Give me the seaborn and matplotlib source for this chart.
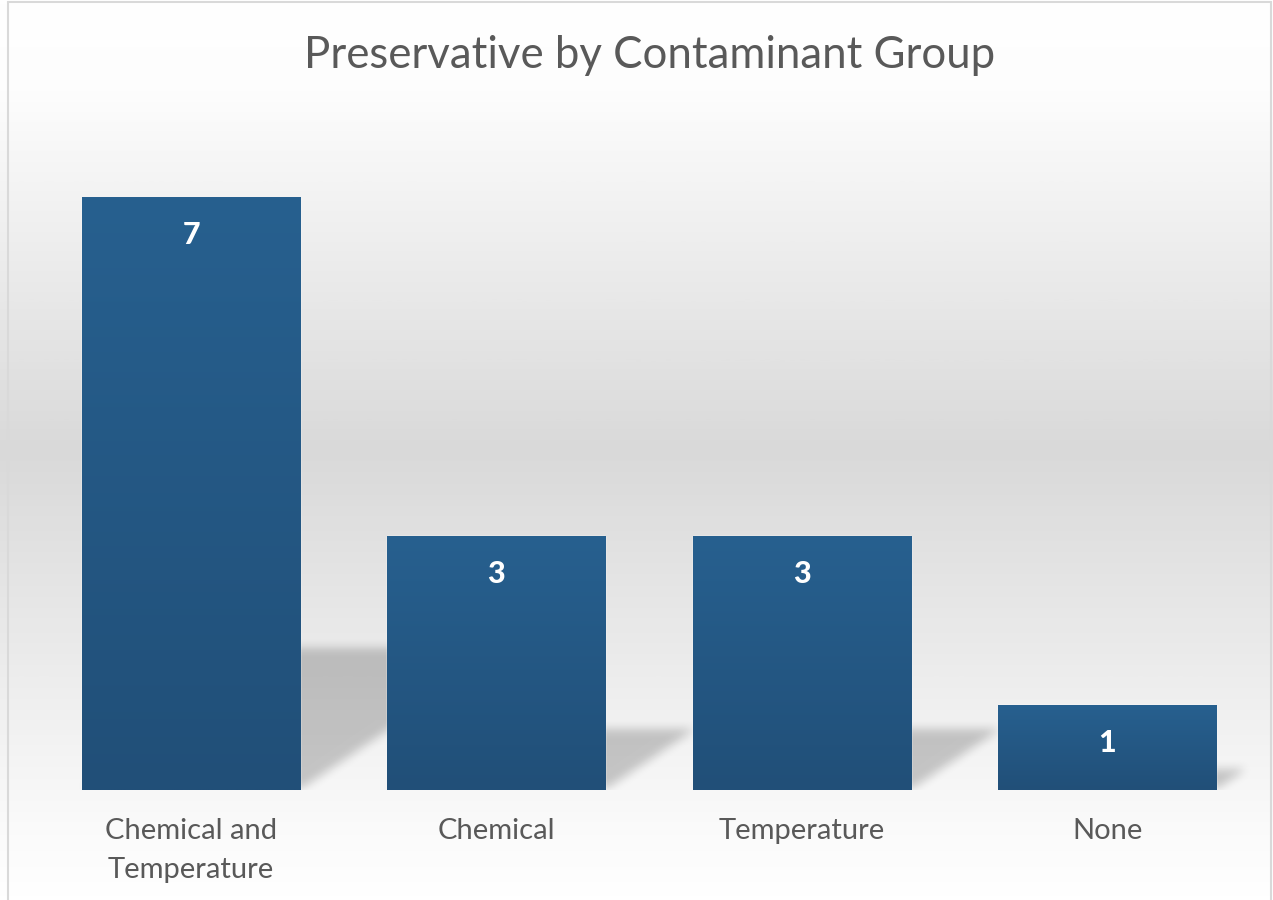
import numpy as np
import pandas as pd
import matplotlib
matplotlib.use("Agg")
import matplotlib.pyplot as plt
from matplotlib.path import Path
from matplotlib.colors import LinearSegmentedColormap
from matplotlib.lines import Line2D
import seaborn as sns

# data
groups = ["Chemical and\nTemperature", "Chemical", "Temperature", "None"]
counts = [7, 3, 3, 1]
title = "Preservative by Contaminant Group"

sns.set_theme(style="white")
plt.rcParams["font.family"] = ["Lato", "DejaVu Sans"]

text_grey = "#595959"

fig = plt.figure(figsize=(12.73, 9), dpi=100)

# ---------- background gradient (white -> grey -> white) ----------
bg = fig.add_axes([0, 0, 1, 1], zorder=-10)
bg_cmap = LinearSegmentedColormap.from_list(
    "bg", [(0, "#ffffff"), (0.1, "#fdfdfd"), (0.5, "#d9d9d9"), (0.93, "#fbfbfb"), (1, "#ffffff")])
bg.imshow(np.linspace(0, 1, 600).reshape(-1, 1), aspect="auto", cmap=bg_cmap,
          extent=(0, 1, 0, 1), vmin=0, vmax=1)
bg.set_xlim(0, 1)
bg.set_ylim(0, 1)
bg.axis("off")

# chart border
for xs_, ys_ in [([8 / 1273, 8 / 1273], [0, 1 - 2 / 900]),
                 ([8 / 1273, 1271 / 1273], [1 - 2 / 900, 1 - 2 / 900]),
                 ([1271 / 1273, 1271 / 1273], [0, 1 - 2 / 900])]:
    fig.add_artist(Line2D(xs_, ys_, transform=fig.transFigure, color="#d9d9d9", lw=1.5))

# ---------- bars ----------
ax = fig.add_axes([0.0302, 0.1222, 0.9594, 0.7522])
ax.patch.set_alpha(0)
df = pd.DataFrame({"group": groups, "count": counts})
sns.barplot(data=df, x="group", y="count", color="#245a8a", saturation=1,
            width=0.714, ax=ax)
ax.set_xlim(-0.5, 3.5)
ax.set_ylim(0, 8)
xlim = ax.get_xlim()
ylim = ax.get_ylim()

# perspective shadows behind the bars, blurred
bbox = ax.get_window_extent()
nx, ny = int(bbox.width), int(bbox.height)
gx, gy = np.meshgrid(np.linspace(*xlim, nx), np.linspace(*ylim, ny))
pts = np.column_stack([gx.ravel(), gy.ravel()])
mask = np.zeros(nx * ny)
for p in ax.patches:
    x0, w, h = p.get_x(), p.get_width(), p.get_height()
    s, hs = 0.098 * h, 0.24 * h
    poly = Path([(x0, 0), (x0 + w, 0), (x0 + w + s, hs), (x0 + s, hs), (x0, 0)])
    mask = np.maximum(mask, poly.contains_points(pts))
mask = mask.reshape(ny, nx)


def box_blur(a, r, axis):
    k = np.ones(2 * r + 1) / (2 * r + 1)
    return np.apply_along_axis(lambda m: np.convolve(m, k, mode="same"), axis, a)


for _ in range(2):
    mask = box_blur(mask, 5, 0)
    mask = box_blur(mask, 5, 1)

shadow = np.zeros((ny, nx, 4))
shadow[..., 3] = 0.2 * mask
ax.imshow(shadow, extent=(*xlim, *ylim), origin="lower", aspect="auto", zorder=0.5)

# vertical gradient on each bar
bar_cmap = LinearSegmentedColormap.from_list("bar", ["#27608f", "#214f78"])
for p, v in zip(ax.patches, counts):
    x0, w, h = p.get_x(), p.get_width(), p.get_height()
    ax.imshow(np.linspace(0, 1, 256).reshape(-1, 1), cmap=bar_cmap, aspect="auto",
              extent=(x0, x0 + w, 0, h), zorder=2)
    ax.annotate(str(v), (x0 + w / 2, h), xytext=(0, -27), textcoords="offset points",
                ha="center", va="center", color="white", fontsize=22,
                fontweight="black", zorder=5)

ax.set_xlim(*xlim)
ax.set_ylim(*ylim)
ax.set_xlabel("")
ax.set_ylabel("")
ax.set_yticks([])
ax.tick_params(axis="x", length=0, pad=20, labelsize=21, labelcolor=text_grey)
for lab in ax.get_xticklabels():
    lab.set_linespacing(1.65)
sns.despine(ax=ax, left=True, bottom=True)

fig.text(0.51, 1 - 55 / 900, title, ha="center", va="center", fontsize=31.5, color=text_grey)

fig.savefig("out.png", dpi=100)
